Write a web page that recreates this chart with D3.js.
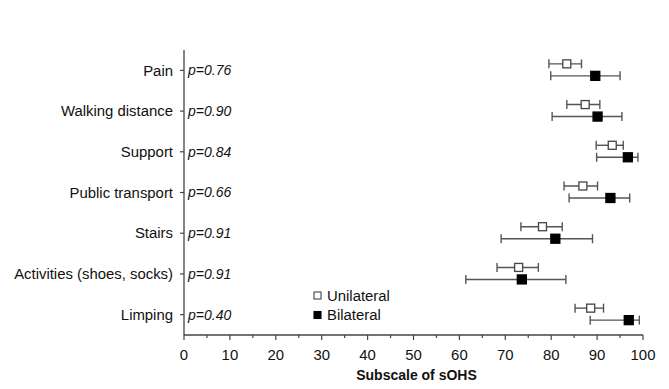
<!DOCTYPE html>
<html><head><meta charset="utf-8">
<script src="https://cdn.jsdelivr.net/npm/d3@7"></script>
<style>body{margin:0;background:#fff}svg{display:block}text{font-family:"Liberation Sans",Arial,sans-serif}</style>
</head><body><svg id="c" width="669" height="389"></svg>
<script>
const categories = ["Pain","Walking distance","Support","Public transport","Stairs","Activities (shoes, socks)","Limping"];
const pValues = ["p=0.76","p=0.90","p=0.84","p=0.66","p=0.91","p=0.91","p=0.40"];
const uniMean = [83.4, 87.4, 93.3, 86.9, 78.1, 72.9, 88.6];
const uniLow  = [79.5, 83.4, 89.8, 82.8, 73.4, 68.2, 85.2];
const uniHigh = [86.6, 90.6, 95.7, 90.1, 82.4, 77.2, 91.4];
const biMean  = [89.6, 90.1, 96.7, 92.9, 80.9, 73.6, 96.9];
const biLow   = [79.9, 80.2, 89.9, 83.9, 69.1, 61.4, 88.5];
const biHigh  = [95.0, 95.4, 98.9, 97.1, 89.0, 83.2, 99.2];
const xTicks = [0,10,20,30,40,50,60,70,80,90,100];
const seriesNames = ["Unilateral","Bilateral"];

const svg = d3.select("#c");
const x = d3.scaleLinear().domain([0,100]).range([184,643]);
const y = d3.scalePoint().domain(categories).range([50,335]).padding(0.5);
const axisColor = "#444";
const fs = 14.9;

// x axis
const xAxisG = svg.append("g").attr("transform","translate(0,335)");
xAxisG.append("line").attr("x1",x(0)).attr("x2",x(100)).attr("stroke",axisColor).attr("stroke-width",1.3);
xAxisG.selectAll(".minor").data(d3.range(5,100,10)).enter().append("line")
  .attr("x1",d=>x(d)).attr("x2",d=>x(d)).attr("y1",0).attr("y2",3).attr("stroke",axisColor).attr("stroke-width",1.2);
xAxisG.selectAll(".major").data(xTicks).enter().append("line")
  .attr("x1",d=>x(d)).attr("x2",d=>x(d)).attr("y1",0).attr("y2",5).attr("stroke",axisColor).attr("stroke-width",1.2);
xAxisG.selectAll(".lab").data(xTicks).enter().append("text")
  .attr("x",d=>x(d)).attr("y",25).attr("text-anchor","middle").attr("font-size",fs).attr("fill","#111").text(d=>d);
svg.append("text").attr("x",(x(0)+x(100))/2+3).attr("y",380).attr("text-anchor","middle")
  .attr("font-size",14).attr("font-weight","bold").attr("fill","#111").text("Subscale of sOHS");

// y axis
svg.append("line").attr("x1",184).attr("x2",184).attr("y1",50).attr("y2",335).attr("stroke",axisColor).attr("stroke-width",1.3);
svg.selectAll(".yt").data(categories).enter().append("line")
  .attr("x1",180).attr("x2",184).attr("y1",d=>y(d)).attr("y2",d=>y(d)).attr("stroke",axisColor).attr("stroke-width",1.2);
svg.selectAll(".yl").data(categories).enter().append("text")
  .attr("x",173).attr("y",d=>y(d)).attr("dy","0.35em").attr("text-anchor","end").attr("font-size",fs).attr("fill","#111").text(d=>d);
svg.selectAll(".pv").data(pValues).enter().append("text")
  .attr("x",188).attr("y",(d,i)=>y(categories[i])).attr("dy","0.35em").attr("font-size",14)
  .attr("font-style","italic").attr("fill","#111").text(d=>d);

// series
const series = [
  {name:seriesNames[0], mean:uniMean, low:uniLow, high:uniHigh, off:-6.5, fill:"#fff"},
  {name:seriesNames[1], mean:biMean, low:biLow, high:biHigh, off:5.5, fill:"#000"}
];
const lc = "#555";
series.forEach(s=>{
  const g = svg.append("g");
  categories.forEach((c,i)=>{
    const cy = y(c)+s.off;
    g.append("line").attr("x1",x(s.low[i])).attr("x2",x(s.high[i])).attr("y1",cy).attr("y2",cy).attr("stroke",lc).attr("stroke-width",1.4);
    [s.low[i],s.high[i]].forEach(v=>{
      g.append("line").attr("x1",x(v)).attr("x2",x(v)).attr("y1",cy-4.5).attr("y2",cy+4.5).attr("stroke",lc).attr("stroke-width",1.4);
    });
    const sz = s.fill==="#000"?9:8;
    g.append("rect").attr("x",x(s.mean[i])-sz/2).attr("y",cy-sz/2).attr("width",sz).attr("height",sz)
      .attr("fill",s.fill).attr("stroke",s.fill==="#000"?"#000":"#444").attr("stroke-width",1.3);
  });
});

// legend
const leg = svg.append("g");
series.forEach((s,i)=>{
  const ly = 295.5 + i*19.5;
  leg.append("rect").attr("x",314).attr("y",ly-3.5).attr("width",7).attr("height",7)
    .attr("fill",s.fill).attr("stroke",s.fill==="#000"?"#000":"#444").attr("stroke-width",1.1);
  leg.append("text").attr("x",327).attr("y",ly).attr("dy","0.35em").attr("font-size",fs).attr("fill","#111").text(s.name);
});
</script></body></html>
